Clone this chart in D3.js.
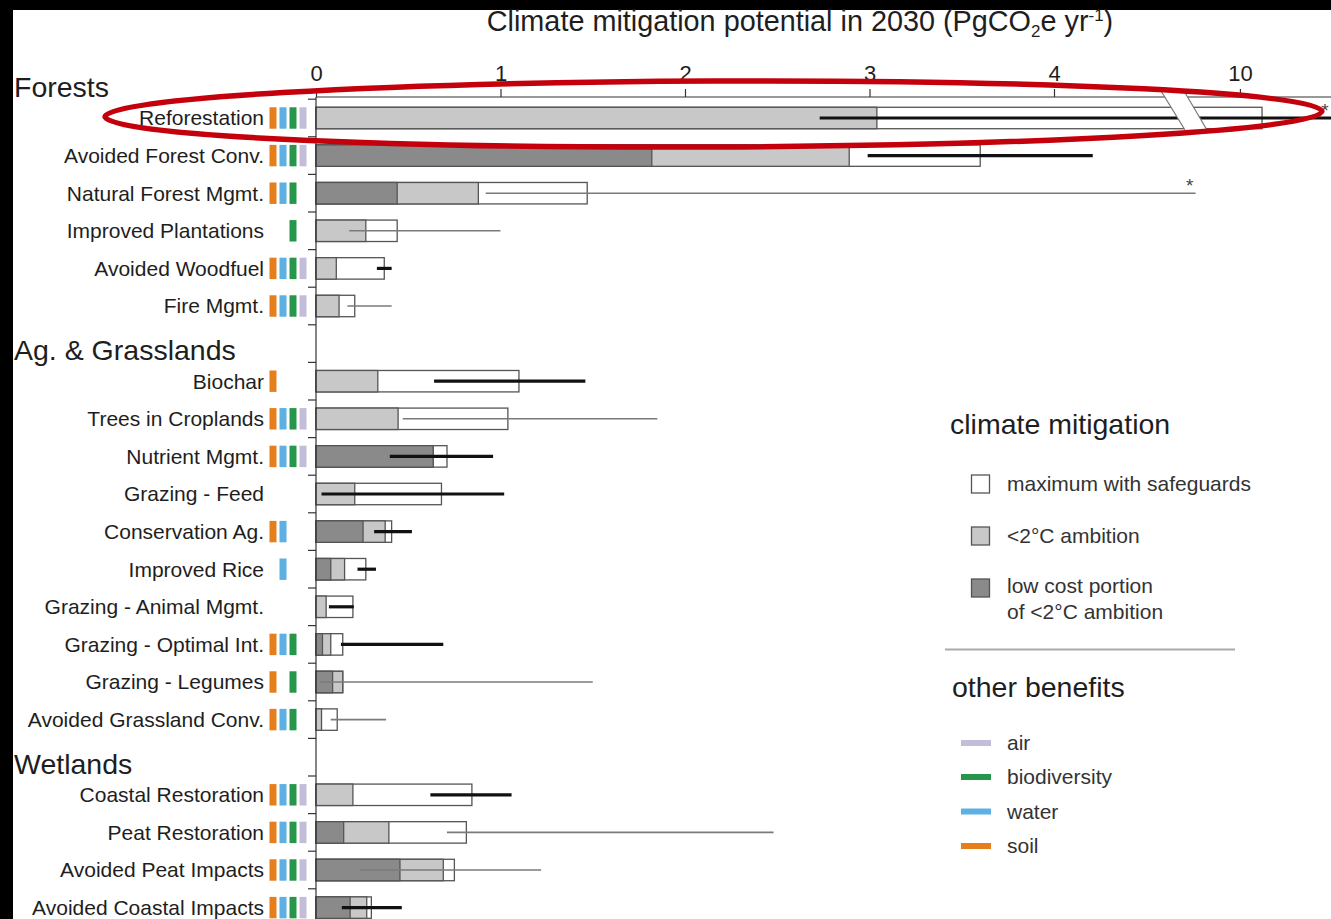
<!DOCTYPE html>
<html><head><meta charset="utf-8">
<script src="https://cdn.jsdelivr.net/npm/d3@7"></script>
<style>
html,body{margin:0;padding:0;background:#000;overflow:hidden;}
svg{display:block;}
text{font-family:"Liberation Sans",Arial,Helvetica,sans-serif;fill:#1e1e1e;}
</style></head><body>
<svg id="c" width="1331" height="919"></svg>
<script>
// ---------------- DATA ----------------
const groups = ["Forests", "Ag. & Grasslands", "Wetlands"];
const pathways = [
  "Reforestation", "Avoided Forest Conv.", "Natural Forest Mgmt.", "Improved Plantations",
  "Avoided Woodfuel", "Fire Mgmt.",
  "Biochar", "Trees in Croplands", "Nutrient Mgmt.", "Grazing - Feed", "Conservation Ag.",
  "Improved Rice", "Grazing - Animal Mgmt.", "Grazing - Optimal Int.", "Grazing - Legumes",
  "Avoided Grassland Conv.",
  "Coastal Restoration", "Peat Restoration", "Avoided Peat Impacts", "Avoided Coastal Impacts"
];
const groupOf = [0,0,0,0,0,0, 1,1,1,1,1,1,1,1,1,1, 2,2,2,2];
// low cost portion of <2°C ambition (PgCO2e/yr)
const lowCost  = [0, 1.82, 0.44, 0, 0, 0,   0, 0, 0.635, 0, 0.255, 0.08, 0, 0.035, 0.09, 0,   0, 0.15, 0.455, 0.185];
// <2°C ambition
const ambition = [3.04, 2.89, 0.88, 0.27, 0.11, 0.125,   0.335, 0.445, 0.635, 0.21, 0.375, 0.155, 0.055, 0.08, 0.145, 0.03,   0.20, 0.395, 0.69, 0.275];
// maximum with safeguards
const maximum  = [10.12, 3.60, 1.47, 0.44, 0.37, 0.21,   1.10, 1.04, 0.71, 0.68, 0.41, 0.27, 0.20, 0.145, 0.145, 0.115,   0.845, 0.815, 0.75, 0.30];
// uncertainty range
const errLow   = [2.73, 2.99, 0.92, 0.18, 0.33, 0.17,   0.64, 0.47, 0.40, 0.03, 0.315, 0.225, 0.07, 0.135, 0.02, 0.08,   0.62, 0.71, 0.24, 0.14];
const errHigh  = [17.94, 4.21, 9.76, 1.00, 0.41, 0.41,   1.46, 1.85, 0.96, 1.02, 0.52, 0.325, 0.205, 0.69, 1.50, 0.38,   1.06, 2.48, 1.22, 0.465];
// true = bold black range line, false = thin grey line
const errBold  = [true, true, false, false, true, false,   true, false, true, true, true, true, true, true, false, false,   true, false, false, true];
// range extends beyond the drawn axis (marked with *)
const errBeyond = [true, false, true, false, false, false,   false, false, false, false, false, false, false, false, false, false,   false, false, false, false];
// other benefits: s = soil, w = water, b = biodiversity, a = air
const benefits = ["swba","swba","swb","b","swba","swba",   "s","swba","swba","","sw","w","","swb","sb","swb",   "swba","swba","swba","swba"];
const benefitKeys   = ["s", "w", "b", "a"];
const benefitNames  = {s: "soil", w: "water", b: "biodiversity", a: "air"};
const benefitColors = {s: "#e47f1c", w: "#5db0e1", b: "#26974a", a: "#c4bdda"};
const legendBenefitOrder = ["a", "b", "w", "s"];
const tickValues = [0, 1, 2, 3, 4, 10];
const mitigationLegend = [
  {lines: ["maximum with safeguards"], fill: "#ffffff"},
  {lines: ["<2°C ambition"], fill: "#c8c8c8"},
  {lines: ["low cost portion", "of <2°C ambition"], fill: "#8a8a8a"}
];

// ---------------- LAYOUT ----------------
const W = 1331, H = 919;
const svg = d3.select("#c");
svg.append("rect").attr("x", 13).attr("y", 10).attr("width", W - 13).attr("height", H - 10).attr("fill", "#fff");

const C_LIGHT = "#c8c8c8", C_DARK = "#8a8a8a", C_EDGE = "#555";
const k = 184.5, x0 = 316, axisY = 97;
// broken axis: 0..4.7 then 9.7..
const x = d3.scaleLinear()
  .domain([0, 4.7, 9.7, 20])
  .range([x0, x0 + 4.7 * k, x0 + 4.7 * k + 1.4, x0 + 4.7 * k + 1.4 + 10.3 * k]);

// slots: header rows + pathway rows
const slots = [];
const rowSlot = [];
pathways.forEach((p, i) => {
  if (i === 0 || groupOf[i] !== groupOf[i - 1]) slots.push("H" + groupOf[i]);
  slots.push("P" + i);
  rowSlot.push("P" + i);
});
const step = 37.6;
const yTop = 118 - step * 1.5;
const y = d3.scaleBand().domain(slots).range([yTop, yTop + step * slots.length])
  .paddingInner(0.43).paddingOuter(0.215);
const bw = y.bandwidth();
const cy = i => y(rowSlot[i]) + bw / 2;

// ---------------- TITLE ----------------
const title = svg.append("text").attr("x", 800).attr("y", 31).attr("text-anchor", "middle")
  .style("font-size", "28.8px");
title.append("tspan").text("Climate mitigation potential in 2030 (PgCO");
title.append("tspan").attr("dy", 6).style("font-size", "17px").text("2");
title.append("tspan").attr("dy", -6).text("e yr");
title.append("tspan").attr("dy", -10).style("font-size", "17px").text("-1");
title.append("tspan").attr("dy", 10).text(")");

// ---------------- BARS ----------------
const rows = pathways.map((p, i) => ({i, p}));
const gBars = svg.append("g");
[[maximum, "#ffffff"], [ambition, C_LIGHT], [lowCost, C_DARK]].forEach(([arr, fill]) => {
  gBars.selectAll(null).data(rows.filter(d => arr[d.i] > 0)).join("rect")
    .attr("x", x(0))
    .attr("y", d => y(rowSlot[d.i]))
    .attr("width", d => x(arr[d.i]) - x(0))
    .attr("height", bw)
    .attr("fill", fill)
    .attr("stroke", C_EDGE)
    .attr("stroke-width", 1.3);
});

// error ranges
svg.append("g").selectAll("line").data(rows).join("line")
  .attr("x1", d => x(errLow[d.i]))
  .attr("x2", d => Math.min(x(errHigh[d.i]), W + 5))
  .attr("y1", d => cy(d.i)).attr("y2", d => cy(d.i))
  .attr("stroke", d => errBold[d.i] ? "#111" : "#7a7a7a")
  .attr("stroke-width", d => errBold[d.i] ? 3.2 : 1.6);

// asterisks for ranges beyond the axis
svg.append("g").selectAll("text").data(rows.filter(d => errBeyond[d.i])).join("text")
  .attr("x", d => Math.min(x(errHigh[d.i]), W) - 6)
  .attr("y", d => cy(d.i) - 1)
  .attr("text-anchor", "middle")
  .style("font-size", "19px").style("fill", "#444")
  .text("*");

// ---------------- AXES ----------------
const gx = svg.append("g").attr("transform", `translate(0,${axisY})`)
  .call(d3.axisTop(x).tickValues(tickValues).tickSize(8).tickPadding(8).tickFormat(d3.format("d")));
gx.select(".domain").remove();
gx.selectAll(".tick line").attr("stroke", "#333").attr("stroke-width", 1.2);
gx.selectAll(".tick text").style("font-size", "22px").style("font-family", "'Liberation Sans',Arial,sans-serif").attr("fill", "#222");
svg.append("line").attr("x1", x(0)).attr("x2", W).attr("y1", axisY).attr("y2", axisY)
  .attr("stroke", "#333").attr("stroke-width", 1.2);

// axis break on the reforestation bar
const bx = (x(4.7) + x(9.7)) / 2;
const brTop = axisY - 8, brBot = cy(0) + bw / 2 + 1;
svg.append("polygon")
  .attr("points", [[bx - 24, brTop], [bx - 1, brTop], [bx + 23, brBot], [bx + 1, brBot]].map(p => p.join(",")).join(" "))
  .attr("fill", "#fff");
[[-24, 1], [-1, 23]].forEach(([a, b]) => {
  svg.append("line").attr("x1", bx + a).attr("y1", brTop).attr("x2", bx + b).attr("y2", brBot)
    .attr("stroke", "#777").attr("stroke-width", 1.2);
});

// vertical category axis
svg.append("line").attr("x1", x0).attr("x2", x0).attr("y1", axisY).attr("y2", H)
  .attr("stroke", "#333").attr("stroke-width", 1.2);
const gap = (step - bw) / 2;
svg.append("g").selectAll("line").data(slots.slice(1)).join("line")
  .attr("x1", x0 - 8).attr("x2", x0)
  .attr("y1", d => y(d) - gap).attr("y2", d => y(d) - gap)
  .attr("stroke", "#333").attr("stroke-width", 1.2);

// ---------------- LABELS ----------------
svg.append("g").selectAll("text").data(rows).join("text")
  .attr("x", 264).attr("y", d => cy(d.i) + 7.4)
  .attr("text-anchor", "end")
  .style("font-size", "21px")
  .text(d => d.p);

svg.append("g").selectAll("text").data(groups).join("text")
  .attr("x", 14).attr("y", (d, g) => y("H" + g) + bw / 2 + 16.5)
  .style("font-size", "28.5px")
  .text(d => d);

// benefit icons
const bxScale = d3.scaleBand().domain(benefitKeys).range([268, 308]).paddingInner(0.3).paddingOuter(0.15);
const icons = [];
rows.forEach(d => benefits[d.i].split("").forEach(b => icons.push({i: d.i, b})));
svg.append("g").selectAll("rect").data(icons).join("rect")
  .attr("x", d => bxScale(d.b)).attr("width", bxScale.bandwidth())
  .attr("y", d => y(rowSlot[d.i])).attr("height", bw)
  .attr("fill", d => benefitColors[d.b]);

// ---------------- LEGEND ----------------
const lg = svg.append("g");
lg.append("text").attr("x", 950).attr("y", 434).style("font-size", "28.5px").text("climate mitigation");
const legY = [484, 536, 588];
mitigationLegend.forEach((m, j) => {
  lg.append("rect").attr("x", 971.5).attr("y", legY[j] - 9).attr("width", 18).attr("height", 18)
    .attr("fill", m.fill).attr("stroke", C_EDGE).attr("stroke-width", 1.3);
  m.lines.forEach((t, li) => {
    lg.append("text").attr("x", 1007).attr("y", legY[j] + 7 + li * 26 - (m.lines.length > 1 ? 2 : 0))
      .style("font-size", "21px").style("fill", "#333").text(t);
  });
});
lg.append("line").attr("x1", 945).attr("x2", 1235).attr("y1", 649.5).attr("y2", 649.5)
  .attr("stroke", "#aaa").attr("stroke-width", 2);
lg.append("text").attr("x", 952).attr("y", 697).style("font-size", "28.5px").text("other benefits");
const benY = [743, 777, 811.5, 846];
legendBenefitOrder.forEach((b, j) => {
  lg.append("line").attr("x1", 961).attr("x2", 991).attr("y1", benY[j]).attr("y2", benY[j])
    .attr("stroke", benefitColors[b]).attr("stroke-width", 6);
  lg.append("text").attr("x", 1007).attr("y", benY[j] + 7).style("font-size", "21px").style("fill", "#333")
    .text(benefitNames[b]);
});

// ---------------- ANNOTATION (red ellipse around Reforestation) ----------------
const ex = (105 + 1322) / 2, ey = cy(0) - 4;
svg.append("ellipse").attr("cx", ex).attr("cy", ey).attr("rx", (1322 - 105) / 2).attr("ry", 33)
  .attr("transform", `rotate(-0.25,${ex},${ey})`)
  .attr("fill", "none").attr("stroke", "#c4000c").attr("stroke-width", 5.5);
</script>
</body></html>
